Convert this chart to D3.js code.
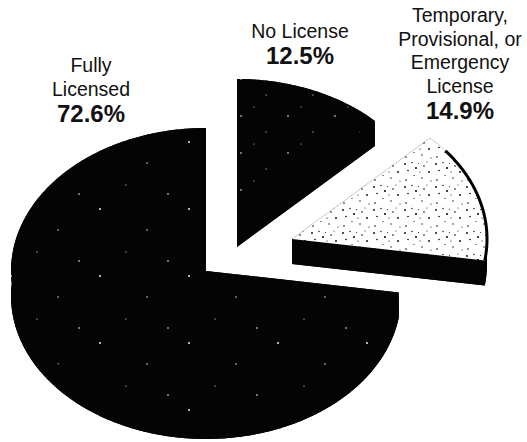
<!DOCTYPE html>
<html>
<head>
<meta charset="utf-8">
<script src="https://cdn.jsdelivr.net/npm/d3@7/dist/d3.min.js"></script>
<style>
  body { margin: 0; background: #fff; }
  svg { display: block; }
  text { font-family: "Liberation Sans", Arial, sans-serif; fill: #111; }
</style>
</head>
<body>
<svg id="chart" width="527" height="442"></svg>
<script>
// Licence status shares (percent), in pie order clockwise from 12 o'clock
const categories = ["No License", "Temporary, Provisional, or Emergency License", "Fully Licensed"];
const shares = [12.5, 14.9, 72.6];
const labelLines = [
  ["No License"],
  ["Temporary,", "Provisional, or", "Emergency", "License"],
  ["Fully", "Licensed"]
];

// Tilted-disc geometry and per-slice pull-out
const geo = { cx: 206, cy: 271, rx: 195, ry: 143, depth: 25 };
const explode = [[31, -49], [86, -32], [0, 0]];
const topFill = ["url(#darkSpeckA)", "url(#lightSpeck)", "url(#darkSpeckB)"];
const labelPos = [{ x: 300, y: 38 }, { x: 460, y: 22 }, { x: 91, y: 72 }];
const lineH = 23.5, valueGap = 26;

const svg = d3.select("#chart");
const defs = svg.append("defs");

// Light, grainy top face
const light = defs.append("pattern").attr("id", "lightSpeck")
  .attr("patternUnits", "userSpaceOnUse").attr("width", 31).attr("height", 23);
light.append("rect").attr("width", 31).attr("height", 23).attr("fill", "#fff");
[[2, 3, 0.9], [9, 1.5, 0.7], [13, 7, 1], [5, 9.5, 0.8], [11, 14.5, 0.6], [15.5, 2.5, 0.5],
 [21, 5, 0.8], [26, 11, 0.9], [19, 17, 0.7], [28, 20, 0.6], [3, 19, 0.8], [24, 1, 0.5], [17, 11, 0.6]]
  .forEach(([x, y, r]) => light.append("circle").attr("cx", x).attr("cy", y).attr("r", r).attr("fill", "#000"));

// Dark faces with sparse light flecks
function darkPattern(id, w, h, flecks) {
  const p = defs.append("pattern").attr("id", id)
    .attr("patternUnits", "userSpaceOnUse").attr("width", w).attr("height", h);
  p.append("rect").attr("width", w).attr("height", h).attr("fill", "#040404");
  flecks.forEach(([x, y, r]) => p.append("circle").attr("cx", x).attr("cy", y).attr("r", r).attr("fill", "#fff"));
}
darkPattern("darkSpeckA", 47, 37, [[6, 5, 0.8], [31, 21, 0.6], [19, 33, 0.5]]);
darkPattern("darkSpeckB", 89, 67, [[11, 8, 0.9], [58, 29, 0.7], [37, 51, 0.6], [79, 60, 0.8]]);

const pie = d3.pie().sort(null).value(d => d)(shares);

const pt = (c, a, dy = 0) => [c[0] + geo.rx * Math.sin(a), c[1] - geo.ry * Math.cos(a) + dy];
function arcPts(c, a0, a1, dy = 0) {
  const n = Math.max(2, Math.ceil(Math.abs(a1 - a0) / 0.01));
  return d3.range(n + 1).map(i => pt(c, a0 + (a1 - a0) * i / n, dy));
}
const poly = pts => "M" + pts.map(p => p.join(",")).join("L") + "Z";

const g = svg.append("g");
// draw the large slice first, then the pulled-out ones
[2, 0, 1].forEach(i => {
  const s = pie[i];
  const c = [geo.cx + explode[i][0], geo.cy + explode[i][1]];
  const d = geo.depth;
  const a0 = s.startAngle, a1 = s.endAngle;
  const cb = [c[0], c[1] + d];
  const slice = g.append("g");

  // body: bottom face, outer wall and both cut faces, each its own shape
  [
    poly([cb, ...arcPts(c, a0, a1, d)]),
    poly([...arcPts(c, a0, a1), ...arcPts(c, a1, a0, d)]),
    poly([c, pt(c, a0), pt(c, a0, d), cb]),
    poly([c, pt(c, a1), pt(c, a1, d), cb])
  ].forEach(p => slice.append("path").attr("d", p).attr("fill", "#040404"));

  // top face
  slice.append("path").attr("d", poly([c, ...arcPts(c, a0, a1)]))
    .attr("fill", topFill[i]);

  if (i === 1) {
    // dark rim along the outer edge of the light face
    slice.append("path")
      .attr("d", "M" + arcPts(c, a0 + 0.12, a1).map(p => p.join(",")).join("L"))
      .attr("fill", "none").attr("stroke", "#000").attr("stroke-width", 3);
  }
});

// labels
const lab = svg.append("g").attr("text-anchor", "middle");
pie.forEach((s, i) => {
  const p = labelPos[i];
  labelLines[i].forEach((t, k) => {
    lab.append("text").attr("x", p.x).attr("y", p.y + k * lineH)
      .style("font-size", "19.5px").text(t);
  });
  lab.append("text")
    .attr("x", p.x)
    .attr("y", p.y + (labelLines[i].length - 1) * lineH + valueGap)
    .style("font-size", "24px").style("font-weight", "bold")
    .text(d3.format(".1f")(s.data) + "%");
});
</script>
</body>
</html>
